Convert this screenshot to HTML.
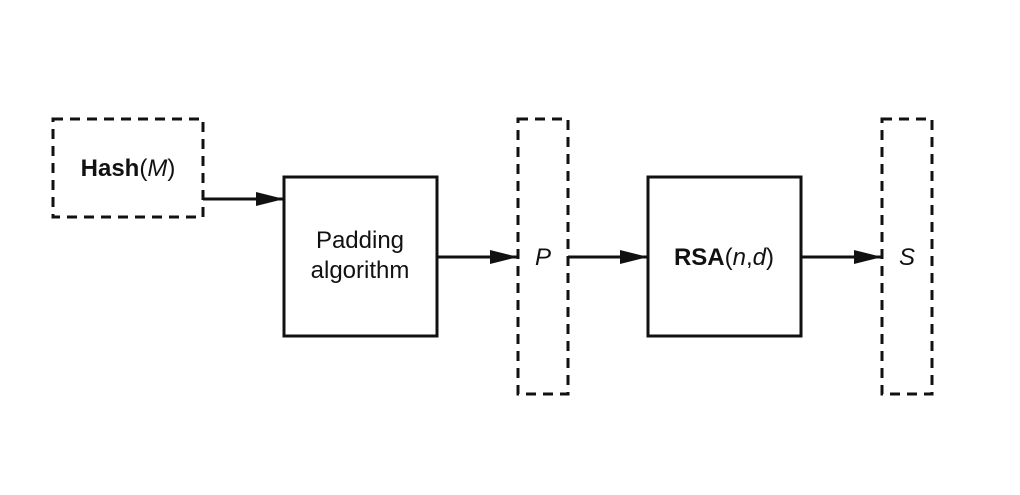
<!DOCTYPE html>
<html><head><style>body{margin:0;background:#fff}</style></head><body>
<svg width="1020" height="490" xmlns="http://www.w3.org/2000/svg" font-family="Liberation Sans, sans-serif">
<defs><marker id="a" markerWidth="28" markerHeight="14" refX="28" refY="7" orient="auto" markerUnits="userSpaceOnUse"><path d="M0,0 L28,7 L0,14 z" fill="#111"/></marker></defs>
<g fill="none" stroke="#111" stroke-width="3">
<rect x="53" y="119" width="150" height="98" stroke-dasharray="10,7"/>
<rect x="518" y="119" width="50" height="275" stroke-dasharray="10,7"/>
<rect x="882" y="119" width="50" height="275" stroke-dasharray="10,7"/>
<rect x="284" y="177" width="153" height="159"/>
<rect x="648" y="177" width="153" height="159"/>
<line x1="203" y1="199" x2="284" y2="199" marker-end="url(#a)"/>
<line x1="437" y1="257" x2="518" y2="257" marker-end="url(#a)"/>
<line x1="568" y1="257" x2="648" y2="257" marker-end="url(#a)"/>
<line x1="801" y1="257" x2="882" y2="257" marker-end="url(#a)"/>
</g>
<g fill="#111" font-size="24" text-anchor="middle">
<text x="128" y="176"><tspan font-weight="bold">Hash</tspan>(<tspan font-style="italic">M</tspan>)</text>
<text x="360" y="248">Padding</text>
<text x="360" y="278">algorithm</text>
<text x="543" y="265" font-style="italic">P</text>
<text x="724" y="265"><tspan font-weight="bold">RSA</tspan>(<tspan font-style="italic">n</tspan>,<tspan font-style="italic">d</tspan>)</text>
<text x="907" y="265" font-style="italic">S</text>
</g>
</svg>
</body></html>
